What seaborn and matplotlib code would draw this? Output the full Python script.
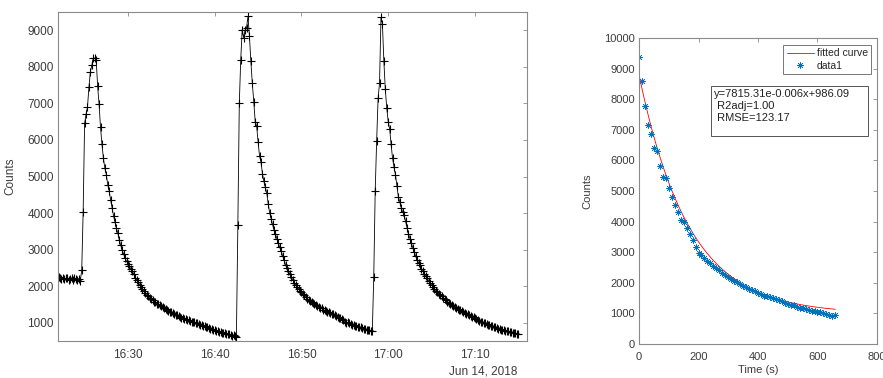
import numpy as np
import pandas as pd
import matplotlib
matplotlib.use('Agg')
import matplotlib.pyplot as plt
import matplotlib.dates as mdates
from matplotlib.patches import Rectangle
import seaborn as sns

#left panel: counts sampled every 10 s, offsets in seconds from 16:30:00
step_s = 10
seg1_start = -490
seg1_counts = [2280, 2240, 2220, 2200, 2230, 2190, 2210, 2220, 2180, 2200,
               2230, 2170, 2210, 2190, 2160, 2200, 2140, 2430, 4030, 6450,
               6700, 6900, 7450, 7870, 8050, 8230, 8240, 8200, 7480, 6980,
               6350, 5880, 5500, 5230, 5050, 4780, 4600, 4360, 4150, 3930,
               3760, 3580, 3450, 3260, 3120, 2980, 2880, 2760, 2680, 2620,
               2540, 2470, 2420, 2330, 2230, 2170, 2120, 2040, 1990, 1930,
               1860, 1800, 1750, 1720, 1680, 1640, 1620, 1570, 1560, 1520,
               1510, 1480, 1460, 1420, 1410, 1370, 1350, 1330, 1290, 1280,
               1260, 1230, 1220, 1200, 1180, 1170, 1140, 1120, 1110, 1100,
               1070, 1080, 1040, 1030, 1010, 1020, 990, 980, 960, 950,
               930, 920, 900, 880, 890, 850, 840, 820, 810, 800,
               770, 760, 750, 740, 720, 710, 720, 690, 680, 690,
               660, 650, 660, 630, 620]
seg2_start = 760
seg2_counts = [3670, 7000, 8200, 9020, 8800, 9000, 9060, 9380, 8850, 8150,
               7550, 7050, 6500, 6380, 5950, 5560, 5400, 5080, 4870, 4700,
               4550, 4250, 4010, 3850, 3700, 3530, 3420, 3300, 3180, 3060,
               2950, 2830, 2720, 2580, 2490, 2410, 2330, 2240, 2180, 2100,
               2030, 1980, 1930, 1870, 1840, 1780, 1750, 1700, 1660, 1630,
               1600, 1570, 1540, 1510, 1490, 1470, 1430, 1410, 1390, 1360,
               1340, 1320, 1300, 1290, 1270, 1240, 1230, 1200, 1180, 1160,
               1140, 1120, 1090, 1070, 1030, 1000, 1010, 980, 960, 950,
               930, 920, 900, 890, 880, 870, 850, 830, 840, 810,
               800, 790, 770, 760]
seg3_start = 1700
seg3_counts = [2250, 4600, 5970, 7140, 7550, 9350, 9170, 8150, 7380, 6870,
               6500, 6300, 5880, 5500, 5260, 5050, 4740, 4450, 4300, 4150,
               4030, 3950, 3780, 3600, 3430, 3300, 3180, 3050, 2940, 2820,
               2720, 2640, 2570, 2480, 2420, 2330, 2270, 2210, 2150, 2090,
               2030, 1990, 1930, 1880, 1830, 1790, 1760, 1720, 1680, 1650,
               1610, 1580, 1550, 1510, 1490, 1460, 1440, 1410, 1380, 1360,
               1340, 1310, 1290, 1270, 1250, 1230, 1210, 1190, 1160, 1150,
               1120, 1100, 1070, 1050, 1020, 1010, 990, 980, 960, 940,
               930, 910, 900, 880, 870, 850, 840, 830, 810, 800,
               790, 780, 770, 760, 750, 740, 730, 720, 710, 700,
               690]

#right panel: one decay, time in s
fit_time_step = 10
fit_counts = [9380, 8600, 7780, 7160, 6860, 6400, 6300, 5820, 5460, 5420,
              5100, 4800, 4540, 4310, 4050, 3990, 3800, 3600, 3400, 3180,
              2980, 2920, 2820, 2720, 2660, 2560, 2500, 2420, 2320, 2260,
              2200, 2130, 2060, 2010, 1960, 1900, 1860, 1790, 1770, 1720,
              1660, 1640, 1580, 1560, 1520, 1490, 1460, 1450, 1400, 1340,
              1320, 1290, 1260, 1220, 1180, 1170, 1130, 1110, 1080, 1070,
              1060, 1030, 1000, 990, 960, 920, 950]
fit_a, fit_b, fit_c = 7815.31, -0.006, 986.09
fit_text = 'y=7815.31e-0.006x+986.09\n R2adj=1.00\n RMSE=123.17'

#build the time axis of the left panel
t0 = pd.Timestamp('2018-06-14 16:30:00')
secs = []
counts = []
for start, seg in [(seg1_start, seg1_counts), (seg2_start, seg2_counts), (seg3_start, seg3_counts)]:
    secs += [start + step_s * i for i in range(len(seg))]
    counts += seg
left = pd.DataFrame({'time': t0 + pd.to_timedelta(secs, unit='s'), 'Counts': counts})

right = pd.DataFrame({'t': [fit_time_step * i for i in range(len(fit_counts))], 'Counts': fit_counts})
right['fit'] = fit_a * np.exp(fit_b * right['t']) + fit_c

sns.set_style('white')
plt.rcParams['font.family'] = ['Liberation Sans', 'DejaVu Sans']
txt_col = '#3c3c3c'
spine_col = '#8a8a8a'
asterisk = (8, 2, 0)

fig = plt.figure(figsize=(8.83, 3.78), dpi=100)
ax1 = fig.add_axes([58/883, 37/378, 469/883, 329/378])
ax2 = fig.add_axes([639/883, 34/378, 238/883, 306/378])

sns.lineplot(data=left, x='time', y='Counts', ax=ax1, color='black', linewidth=0.6,
             marker='+', markersize=5.5, markeredgewidth=0.8, markeredgecolor='black')
ax1.set_xlim(t0 + pd.Timedelta(seconds=-484), t0 + pd.Timedelta(seconds=2760))
ax1.set_ylim(500, 9500)
ax1.set_yticks(range(1000, 9001, 1000))
ax1.xaxis.set_major_locator(mdates.MinuteLocator(byminute=[0, 10, 20, 30, 40, 50]))
ax1.xaxis.set_major_formatter(mdates.DateFormatter('%H:%M'))
ax1.set_xlabel('')
ax1.set_ylabel('Counts', fontsize=8.5, color=txt_col)
ax1.yaxis.set_label_coords(-0.088, 0.5)
ax1.text(0.979, -0.094, 'Jun 14, 2018', transform=ax1.transAxes, ha='right', va='center',
         fontsize=8.5, color=txt_col)

#right panel
sns.lineplot(data=right, x='t', y='fit', ax=ax2, color='red', linewidth=0.6, label='fitted curve')
sns.lineplot(data=right, x='t', y='Counts', ax=ax2, color='#0072BD', linestyle='none',
             marker=asterisk, markersize=4.5, markeredgewidth=0.5, markeredgecolor='#0072BD', label='data1')
ax2.set_xlim(0, 800)
ax2.set_ylim(0, 10000)
ax2.set_xticks(range(0, 801, 200))
ax2.set_yticks(range(0, 10001, 1000))
ax2.set_xlabel('Time (s)', fontsize=8, color=txt_col)
ax2.set_ylabel('Counts', fontsize=8, color=txt_col)
ax2.xaxis.set_label_coords(0.5, -0.068)
ax2.yaxis.set_label_coords(-0.197, 0.5)
leg = ax2.legend(loc='upper right', bbox_to_anchor=(0.975, 0.977), fontsize=7.5, frameon=True,
                 fancybox=False, handlelength=2.6, borderpad=0.3, labelspacing=0.25,
                 handletextpad=0.3, borderaxespad=0)
leg.get_frame().set_edgecolor('#555555')
leg.get_frame().set_linewidth(0.7)
ax2.add_patch(Rectangle((0.303, 0.68), 0.659, 0.163, transform=ax2.transAxes, fill=True,
                        facecolor='white', edgecolor='#555555', linewidth=0.7, zorder=5))
ax2.text(0.315, 0.832, fit_text, transform=ax2.transAxes, ha='left', va='top', fontsize=8,
         color='#222222', linespacing=1.25, zorder=6)

for ax, fs, xpad in [(ax1, 8.5, 6), (ax2, 8, 5.5)]:
    ax.tick_params(direction='in', top=True, right=True, length=3, width=0.6, colors=spine_col,
                   labelcolor=txt_col, labelsize=fs, pad=3)
    ax.tick_params(axis='x', pad=xpad)
    for s in ax.spines.values():
        s.set_color(spine_col)
        s.set_linewidth(0.8)

fig.savefig('out.png', dpi=100)
